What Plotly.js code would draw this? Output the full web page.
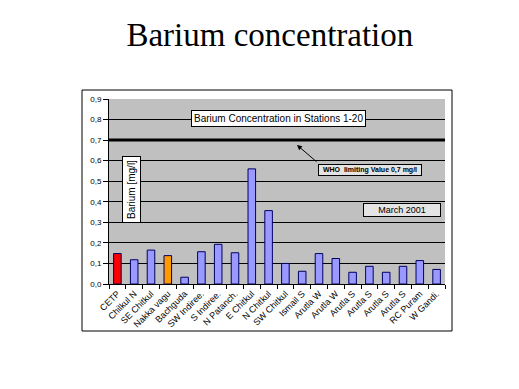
<!DOCTYPE html>
<html><head><meta charset="utf-8">
<script src="https://cdn.plot.ly/plotly-3.0.1.min.js"></script>
<style>html,body{margin:0;padding:0;background:#fff}#chart{width:519px;height:389px}</style>
</head><body><div id="chart"></div>
<script>
const categories = ["CETP","Chilkul N","SE Chitkul","Nakka vagu","Bachguda","SW Indiree.","S Indiree.","N Patanch.","E Chitkul","N Chitkul","SW Chitkul","Ismail S","Arutla W","Arutla W","Arutla S","Arutla S","Arutla S","Arutla S","RC Puram","W Gandi."];
const bariumValues = [0.148,0.118,0.165,0.138,0.033,0.157,0.193,0.152,0.56,0.357,0.1,0.062,0.148,0.124,0.057,0.086,0.057,0.086,0.114,0.071];
const barColors = ["#FF0000","#9999FF","#9999FF","#FF9900","#9999FF","#9999FF","#9999FF","#9999FF","#9999FF","#9999FF","#9999FF","#9999FF","#9999FF","#9999FF","#9999FF","#9999FF","#9999FF","#9999FF","#9999FF","#9999FF"];
const yTicks = [0,0.1,0.2,0.3,0.4,0.5,0.6,0.7,0.8,0.9];
const whoLimit = 0.7;

const keys = categories.map((c,i)=>"s"+i);

const L=109, R=445, T=99, B=284;
const px = x => (x-L)/(R-L);
const py = y => (B-y)/(B-T);

const trace = {
  type:'bar', x:keys, y:bariumValues,
  marker:{color:barColors, line:{color:'#000060', width:1}},
  hoverinfo:'skip'
};

const font = 'Arial, Liberation Sans, sans-serif';

const layout = {
  width:519, height:389,
  margin:{l:L, r:519-R, t:T, b:389-B, pad:0},
  paper_bgcolor:'#ffffff', plot_bgcolor:'#C0C0C0',
  separators:',.',
  showlegend:false,
  bargap:0.55,
  font:{family:font, color:'#000'},
  title:{text:'Barium concentration', x:0.52, xanchor:'center', y:1-34/389, yanchor:'middle', yref:'container',
         font:{family:'Liberation Serif, Times New Roman, serif', size:33, color:'#000'}},
  xaxis:{type:'category', tickmode:'array', tickvals:keys, ticktext:categories,
         tickangle:-45, tickfont:{size:9, family:font},
         showline:true, linecolor:'#000', linewidth:1, ticks:'outside', tickson:'boundaries',
         ticklen:4, tickcolor:'#000', showgrid:false, zeroline:false, fixedrange:true},
  yaxis:{range:[0,0.9], tickmode:'array', tickvals:yTicks, tickformat:'.1f',
         tickfont:{size:8, family:font},
         showline:true, linecolor:'#000', linewidth:1, ticks:'outside', ticklen:5, tickcolor:'#000',
         showgrid:true, gridcolor:'#000', gridwidth:1, zeroline:false, fixedrange:true},
  shapes:[
    {type:'rect', xref:'paper', yref:'paper', x0:px(82), x1:px(452), y0:py(331), y1:py(90),
     line:{color:'#000', width:1}, fillcolor:'rgba(0,0,0,0)', layer:'below'},
    {type:'line', xref:'paper', yref:'y', x0:0, x1:1, y0:whoLimit, y1:whoLimit,
     line:{color:'#000', width:3}}
  ],
  annotations:[
    {xref:'paper', yref:'paper', x:px(278.5), y:py(118.5), xanchor:'center', yanchor:'middle',
     text:'Barium Concentration in Stations 1-20',
     showarrow:false, bgcolor:'#fff', bordercolor:'#000', borderwidth:1, borderpad:2,
     font:{size:10, family:font, color:'#000'}},
    {xref:'paper', yref:'paper', x:px(131), y:py(190), xanchor:'center', yanchor:'middle',
     text:'Barium [mg/l]', textangle:-90,
     showarrow:false, bgcolor:'#fff', bordercolor:'#000', borderwidth:1, borderpad:3,
     font:{size:10, family:font, color:'#000'}},
    {xref:'paper', yref:'paper', x:px(370), y:py(170), xanchor:'center', yanchor:'middle',
     text:'<b>WHO  limiting Value 0,7 mg/l</b>', width:100,
     showarrow:false, bgcolor:'#e4e4e4', bordercolor:'#000', borderwidth:1, borderpad:1,
     font:{size:7, family:font, color:'#000'}},
    {xref:'paper', yref:'paper', x:px(297), y:py(145), text:'', showarrow:true,
     axref:'pixel', ayref:'pixel', ax:21, ay:18, arrowhead:2, arrowsize:1, arrowwidth:1, arrowcolor:'#000'},
    {xref:'paper', yref:'paper', x:px(402), y:py(210), xanchor:'center', yanchor:'middle',
     text:'March 2001',
     showarrow:false, bgcolor:'#e4e4e4', bordercolor:'#000', borderwidth:1, borderpad:1,
     width:74, font:{size:9, family:font, color:'#000'}}
  ]
};

Plotly.newPlot('chart',[trace],layout,{displayModeBar:false, staticPlot:true});
</script></body></html>
